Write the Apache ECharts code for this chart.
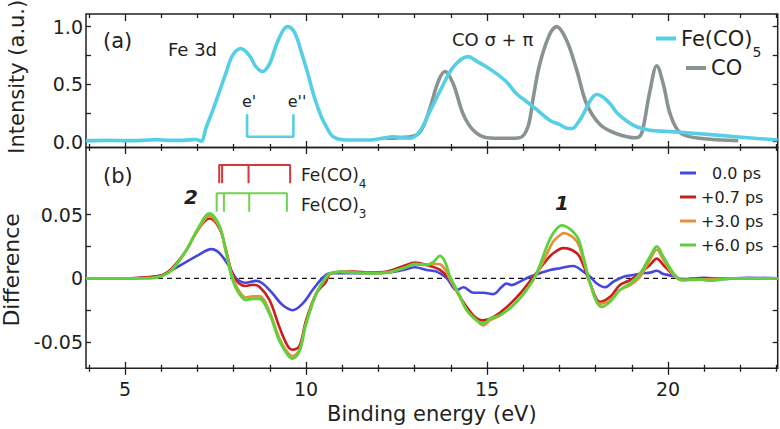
<!DOCTYPE html>
<html>
<head>
<meta charset="utf-8">
<script src="https://cdn.jsdelivr.net/npm/echarts@6/dist/echarts.min.js"></script>
<style>html,body{margin:0;padding:0;background:#fff}#c{width:780px;height:429px}</style>
</head>
<body>
<div id="c"></div>
<script>
// ---------- axes ----------
const xMin = 3.92, xMax = 23.03;
const xMajorTicks = [5, 10, 15, 20];
const xMinorTicks = [4, 6, 7, 8, 9, 11, 12, 13, 14, 16, 17, 18, 19, 21, 22, 23];
const topYMin = -0.05, topYMax = 1.11;
const topYTicks = [0, 0.25, 0.5, 0.75, 1.0];
const topYLabels = [0, 0.5, 1.0];
const botYMin = -0.0706, botYMax = 0.1027;
const botYTicks = [-0.05, -0.025, 0, 0.025, 0.05];
const botYLabels = [-0.05, 0, 0.05];

// ---------- panel (a): spectra ----------
const feE = [3.92, 4.5, 5.0, 5.5, 5.86, 6.2, 6.6, 6.96, 7.1, 7.24, 7.42, 7.6, 7.79, 7.97, 8.2, 8.43, 8.62, 8.8, 8.99, 9.17, 9.36, 9.49, 9.68, 9.86, 10.05, 10.23, 10.41, 10.57, 10.75, 11.12, 11.77, 12.1, 12.4, 12.87, 13.15, 13.43, 13.7, 14.07, 14.48, 14.71, 14.99, 15.27, 15.54, 15.82, 16.09, 16.37, 16.74, 17.0, 17.2, 17.35, 17.5, 17.66, 17.85, 18.03, 18.21, 18.4, 18.58, 18.86, 19.13, 19.5, 19.96, 20.88, 21.8, 23.03];
const feI = [0.01, 0.012, 0.01, 0.012, 0.018, 0.012, 0.012, 0.02, 0.005, 0.125, 0.27, 0.43, 0.60, 0.75, 0.81, 0.75, 0.65, 0.61, 0.676, 0.835, 0.965, 1.0, 0.95, 0.79, 0.59, 0.386, 0.226, 0.125, 0.043, 0.015, 0.015, 0.03, 0.043, 0.03, 0.096, 0.27, 0.44, 0.65, 0.74, 0.70, 0.65, 0.59, 0.52, 0.415, 0.35, 0.28, 0.185, 0.15, 0.118, 0.115, 0.16, 0.24, 0.357, 0.41, 0.386, 0.33, 0.255, 0.18, 0.13, 0.10, 0.09, 0.07, 0.045, 0.015];
const coE = [12.2, 12.6, 13.06, 13.25, 13.43, 13.66, 13.84, 14.07, 14.34, 14.62, 15.0, 15.5, 15.9, 16.13, 16.28, 16.46, 16.74, 16.92, 17.2, 17.48, 17.75, 18.12, 18.58, 19.13, 19.25, 19.32, 19.5, 19.69, 19.87, 20.06, 20.33, 20.88, 21.94];
const coI = [0.03, 0.035, 0.06, 0.14, 0.30, 0.53, 0.61, 0.50, 0.24, 0.10, 0.035, 0.03, 0.035, 0.13, 0.39, 0.68, 0.94, 1.0, 0.88, 0.62, 0.33, 0.15, 0.07, 0.035, 0.06, 0.13, 0.44, 0.66, 0.5, 0.24, 0.08, 0.03, 0.01];
// e' / e'' bracket
const eBracketX = [8.37, 9.65];
const eBracketTop = 0.24, eBracketBottom = 0.043;

// ---------- panel (b): difference spectra ----------
const d00E = [3.92, 5.0, 5.7, 6.04, 6.3, 6.69, 7.01, 7.38, 7.61, 7.88, 8.07, 8.34, 8.62, 8.80, 9.08, 9.35, 9.63, 9.91, 10.18, 10.46, 10.66, 11.31, 12.23, 12.69, 13.01, 13.33, 13.61, 13.89, 14.16, 14.35, 14.62, 14.90, 15.17, 15.41, 15.54, 15.68, 15.91, 16.18, 16.46, 16.74, 17.02, 17.38, 17.66, 17.85, 18.03, 18.26, 18.49, 18.77, 19.04, 19.32, 19.50, 19.69, 19.87, 20.15, 20.38, 21.0, 21.5, 22.2, 23.03];
const d00 = [0, 0, 0.001, 0.0026, 0.0066, 0.013, 0.018, 0.0229, 0.0197, 0.0092, 0, -0.0034, -0.002, -0.004, -0.012, -0.021, -0.025, -0.0197, -0.0092, 0.0005, 0.004, 0.004, 0.0045, 0.0066, 0.0087, 0.0066, 0.0053, 0, -0.0092, -0.007, -0.0113, -0.0113, -0.0124, -0.0066, -0.004, -0.0053, -0.0026, 0.0013, 0.004, 0.0065, 0.008, 0.0097, 0.0053, 0.0013, -0.004, -0.007, -0.0026, 0.0013, 0.0026, 0.004, 0.0045, 0.006, 0.0034, 0.0018, -0.0008, 0.0005, -0.0005, 0.0005, 0];
const d07E = [3.92, 5.0, 5.7, 6.04, 6.3, 6.69, 7.01, 7.33, 7.61, 7.79, 7.97, 8.15, 8.34, 8.53, 8.71, 8.99, 9.26, 9.49, 9.63, 9.82, 10.0, 10.28, 10.55, 10.66, 10.94, 11.31, 11.77, 12.23, 12.69, 13.01, 13.33, 13.70, 13.98, 14.25, 14.62, 14.90, 15.17, 15.54, 15.91, 16.28, 16.65, 16.83, 17.11, 17.48, 17.66, 17.85, 18.12, 18.40, 18.67, 18.95, 19.23, 19.50, 19.69, 19.87, 20.15, 20.38, 20.88, 21.8, 23.03];
const d07 = [0, 0, 0.001, 0.0026, 0.008, 0.022, 0.038, 0.047, 0.039, 0.022, 0.0026, -0.004, -0.006, -0.005, -0.0066, -0.017, -0.038, -0.053, -0.056, -0.053, -0.033, -0.012, -0.0026, 0.0034, 0.005, 0.0053, 0.0045, 0.0053, 0.0097, 0.0124, 0.0105, 0.0066, -0.0013, -0.0145, -0.029, -0.033, -0.0305, -0.0226, -0.012, 0.0013, 0.0145, 0.0197, 0.0237, 0.0197, 0.0105, -0.004, -0.0184, -0.0145, -0.0053, -0.0013, 0.004, 0.0105, 0.0155, 0.0105, 0.0026, -0.0013, -0.0005, 0, 0];
const d30E = [3.92, 5.0, 5.7, 6.04, 6.3, 6.69, 7.01, 7.33, 7.61, 7.79, 7.97, 8.15, 8.34, 8.53, 8.71, 8.99, 9.26, 9.49, 9.63, 9.82, 10.0, 10.28, 10.55, 10.66, 10.94, 11.31, 11.77, 12.23, 12.69, 13.01, 13.33, 13.52, 13.70, 13.84, 13.98, 14.2, 14.44, 14.71, 14.90, 15.08, 15.36, 15.73, 16.09, 16.37, 16.65, 16.83, 17.02, 17.11, 17.48, 17.66, 17.85, 18.12, 18.40, 18.67, 18.95, 19.23, 19.50, 19.69, 19.87, 20.15, 20.38, 20.88, 21.8, 23.03];
const d30 = [0, 0, 0.0005, 0.002, 0.007, 0.022, 0.038, 0.049, 0.040, 0.021, 0.001, -0.01, -0.015, -0.014, -0.014, -0.026, -0.047, -0.058, -0.061, -0.056, -0.035, -0.012, 0.0, 0.0035, 0.005, 0.0045, 0.004, 0.0045, 0.008, 0.011, 0.0105, 0.0115, 0.011, 0.007, -0.001, -0.012, -0.025, -0.033, -0.037, -0.033, -0.029, -0.021, -0.009, 0.003, 0.019, 0.029, 0.034, 0.0355, 0.029, 0.0145, -0.004, -0.020, -0.017, -0.0092, -0.0053, 0.0013, 0.0145, 0.0224, 0.0145, 0.0026, -0.0013, -0.001, 0, 0];
const d60E = [3.92, 5.0, 5.7, 6.04, 6.3, 6.69, 7.01, 7.33, 7.61, 7.79, 7.97, 8.15, 8.34, 8.53, 8.71, 8.99, 9.26, 9.49, 9.63, 9.82, 10.0, 10.28, 10.55, 10.66, 10.94, 11.31, 11.77, 12.23, 12.69, 13.01, 13.33, 13.52, 13.70, 13.84, 13.98, 14.2, 14.44, 14.71, 14.90, 15.08, 15.36, 15.73, 16.09, 16.37, 16.65, 16.83, 17.06, 17.48, 17.66, 17.85, 18.03, 18.17, 18.40, 18.67, 18.95, 19.23, 19.50, 19.69, 19.87, 20.15, 20.38, 20.88, 21.15, 21.8, 23.03];
const d60 = [0, 0, 0, 0.002, 0.0066, 0.022, 0.039, 0.051, 0.041, 0.02, -0.0013, -0.012, -0.017, -0.016, -0.016, -0.028, -0.049, -0.060, -0.063, -0.057, -0.036, -0.012, 0.001, 0.004, 0.0053, 0.0045, 0.004, 0.0045, 0.008, 0.0113, 0.0105, 0.013, 0.0176, 0.013, 0.0013, -0.011, -0.025, -0.033, -0.0355, -0.0316, -0.029, -0.021, -0.0092, 0.004, 0.025, 0.0355, 0.0415, 0.033, 0.017, -0.004, -0.0184, -0.0224, -0.0184, -0.0092, -0.004, 0.004, 0.017, 0.025, 0.017, 0.004, -0.0013, -0.0008, -0.0018, 0, 0];
const diffNames = ['0.0 ps', '+0.7 ps', '+3.0 ps', '+6.0 ps'];
// Fe(CO)4 / Fe(CO)3 stick markers
const fe4X = [7.60, 7.68, 8.41, 9.56];
const fe4Top = 0.089, fe4Bottom = 0.0746;
const fe3X = [7.53, 7.73, 8.43, 9.47];
const fe3Top = 0.0667, fe3Bottom = 0.0523;

// ---------- helpers ----------
const zip = (xs, ys) => xs.map((x, i) => [x, ys[i]]);
function comb(xs, top, bottom) {
  const pts = [[xs[0], bottom], [xs[0], top]];
  for (let i = 1; i < xs.length; i++) {
    pts.push([xs[i], top], [xs[i], bottom], [xs[i], top]);
  }
  pts.pop();
  return pts;
}
function bracket(xs, top, bottom) {
  return [[xs[0], top], [xs[0], bottom], [xs[1], bottom], [xs[1], top]];
}

const FONT = 'DejaVu Sans';
const INK = '#231f20';
const C = { fe: '#56cfe6', co: '#8a9292', b: '#4646e0', r: '#c81e1e', o: '#e39038', g: '#5fd13c' };

const G0 = { left: 86, right: 2.3, top: 14, height: 133.5 };
const G1 = { left: 86, right: 2.3, top: 147.5, height: 220.8 };

// ticks drawn "outside" from an axis shifted inward by `offset`
function xTickAxis(grid, pos, vals, len, offset, extra) {
  return Object.assign({
    type: 'value', gridIndex: grid, position: pos, min: xMin, max: xMax, offset: offset,
    axisLine: { show: false, onZero: false }, splitLine: { show: false },
    axisTick: { show: true, inside: false, length: len, customValues: vals, lineStyle: { color: INK, width: 1.3 } },
    axisLabel: { show: false }
  }, extra || {});
}
function yAxisDef(grid, pos, min, max, ticks, labels, fmt, extra) {
  return Object.assign({
    type: 'value', gridIndex: grid, position: pos, min: min, max: max, offset: -5,
    axisLine: { show: false, onZero: false }, splitLine: { show: false },
    axisTick: { show: true, inside: false, length: 5, customValues: ticks, lineStyle: { color: INK, width: 1.3 } },
    axisLabel: labels ? { show: true, customValues: labels, formatter: fmt, margin: 8, color: INK, fontFamily: FONT, fontSize: 19 } : { show: false }
  }, extra || {});
}

const subRich = (mainSize, subSize, lh) => ({
  n: { fontFamily: FONT, fontSize: mainSize, lineHeight: lh, verticalAlign: 'middle', color: INK, fill: INK },
  s: { fontFamily: FONT, fontSize: subSize, lineHeight: lh, verticalAlign: 'bottom', color: INK, fill: INK }
});

const gridBase = { show: true, borderColor: INK, borderWidth: 1.5, backgroundColor: 'transparent', containLabel: false, outerBoundsMode: 'none' };

const option = {
  animation: false,
  backgroundColor: '#fff',
  textStyle: { fontFamily: FONT, color: INK },
  grid: [Object.assign({}, gridBase, G0), Object.assign({}, gridBase, G1)],
  xAxis: [
    // top edge of panel (a): ticks pointing down into the plot
    xTickAxis(0, 'top', xMajorTicks, 7, -7),
    xTickAxis(0, 'top', xMinorTicks, 4, -4),
    // shared divider (ticks cross the line)
    xTickAxis(1, 'top', xMajorTicks, 13, -6.5),
    xTickAxis(1, 'top', xMinorTicks, 7, -3.5),
    // bottom of panel (b) (ticks cross the line)
    xTickAxis(1, 'bottom', xMajorTicks, 13, -6.5, {
      axisLabel: { show: true, customValues: xMajorTicks, margin: 18, color: INK, fontFamily: FONT, fontSize: 19 },
      name: 'Binding energy (eV)', nameLocation: 'middle', nameGap: 40,
      nameTextStyle: { fontFamily: FONT, fontSize: 21, color: INK }
    }),
    xTickAxis(1, 'bottom', xMinorTicks, 7, -3.5)
  ],
  yAxis: [
    yAxisDef(0, 'left', topYMin, topYMax, topYTicks, topYLabels, v => v.toFixed(1), {
      name: 'Intensity (a.u.)', nameLocation: 'middle', nameRotate: 90, nameGap: 64,
      nameTextStyle: { fontFamily: FONT, fontSize: 21, color: INK, padding: [0, 0, 0, 8] }
    }),
    yAxisDef(0, 'right', topYMin, topYMax, topYTicks, null),
    yAxisDef(1, 'left', botYMin, botYMax, botYTicks, botYLabels, v => (v === 0 ? '0' : v.toFixed(2)), {
      name: 'Difference', nameLocation: 'middle', nameRotate: 90, nameGap: 64,
      nameTextStyle: { fontFamily: FONT, fontSize: 22, color: INK, padding: [0, 24, 0, 0] }
    }),
    yAxisDef(1, 'right', botYMin, botYMax, botYTicks, null)
  ],
  legend: [
    {
      data: ['Fe(CO)5'], left: 656, top: 28, padding: 0, selectedMode: false,
      icon: 'rect', itemWidth: 20, itemHeight: 4, itemGap: 6,
      formatter: () => '{n|Fe(CO)}{s|5}',
      textStyle: { color: INK, fontFamily: FONT, fontSize: 21, rich: subRich(21, 14, 41) }
    },
    {
      data: ['CO'], left: 686, top: 56, padding: 0, selectedMode: false,
      icon: 'rect', itemWidth: 20, itemHeight: 4,
      textStyle: { color: INK, fontFamily: FONT, fontSize: 21, lineHeight: 24 }
    },
    {
      data: diffNames, left: 680, top: 163, padding: 0, orient: 'vertical', selectedMode: false,
      icon: 'rect', itemWidth: 16, itemHeight: 3, itemGap: 4,
      formatter: name => (name === '0.0 ps' ? '{p|' + name + '}' : name),
      textStyle: {
        color: INK, fontFamily: FONT, fontSize: 16, lineHeight: 20,
        rich: { p: { fontFamily: FONT, fontSize: 16, lineHeight: 20, color: INK, padding: [0, 0, 0, 11] } }
      }
    }
  ],
  series: [
    { name: 'CO', type: 'line', xAxisIndex: 0, yAxisIndex: 0, data: zip(coE, coI), smooth: 0.35,
      showSymbol: false, silent: true, lineStyle: { color: C.co, width: 3.6 }, itemStyle: { color: C.co } },
    { name: 'Fe(CO)5', type: 'line', xAxisIndex: 0, yAxisIndex: 0, data: zip(feE, feI), smooth: 0.35,
      showSymbol: false, silent: true, lineStyle: { color: C.fe, width: 3.6 }, itemStyle: { color: C.fe } },
    { name: 'e-bracket', type: 'line', xAxisIndex: 0, yAxisIndex: 0, data: bracket(eBracketX, eBracketTop, eBracketBottom),
      showSymbol: false, silent: true, lineStyle: { color: C.fe, width: 2.6 } },
    { name: 'zero', type: 'line', xAxisIndex: 2, yAxisIndex: 2, data: [[xMin, 0], [xMax, 0]],
      showSymbol: false, silent: true, lineStyle: { color: '#111', width: 1.2, type: [5, 4] } },
    { name: diffNames[0], type: 'line', xAxisIndex: 2, yAxisIndex: 2, data: zip(d00E, d00), smooth: 0.35,
      showSymbol: false, silent: true, lineStyle: { color: C.b, width: 2.6 }, itemStyle: { color: C.b } },
    { name: diffNames[1], type: 'line', xAxisIndex: 2, yAxisIndex: 2, data: zip(d07E, d07), smooth: 0.35,
      showSymbol: false, silent: true, lineStyle: { color: C.r, width: 2.6 }, itemStyle: { color: C.r } },
    { name: diffNames[2], type: 'line', xAxisIndex: 2, yAxisIndex: 2, data: zip(d30E, d30), smooth: 0.35,
      showSymbol: false, silent: true, lineStyle: { color: C.o, width: 2.6 }, itemStyle: { color: C.o } },
    { name: diffNames[3], type: 'line', xAxisIndex: 2, yAxisIndex: 2, data: zip(d60E, d60), smooth: 0.35,
      showSymbol: false, silent: true, lineStyle: { color: C.g, width: 2.8 }, itemStyle: { color: C.g } },
    { name: 'Fe(CO)4 sticks', type: 'line', xAxisIndex: 2, yAxisIndex: 2, data: comb(fe4X, fe4Top, fe4Bottom),
      showSymbol: false, silent: true, lineStyle: { color: '#d03a3a', width: 2 } },
    { name: 'Fe(CO)3 sticks', type: 'line', xAxisIndex: 2, yAxisIndex: 2, data: comb(fe3X, fe3Top, fe3Bottom),
      showSymbol: false, silent: true, lineStyle: { color: '#6fd24e', width: 2 } }
  ],
  graphic: [
    { type: 'text', left: 103, top: 30, style: { text: '(a)', font: '21px "DejaVu Sans"', fill: INK } },
    { type: 'text', left: 168, top: 40, style: { text: 'Fe 3d', font: '18px "DejaVu Sans"', fill: INK } },
    { type: 'text', left: 452, top: 30, style: { text: 'CO σ + π', font: '18px "DejaVu Sans"', fill: INK } },
    { type: 'text', x: 249, y: 101, style: { text: "e'", font: '16px "DejaVu Sans"', fill: INK, align: 'center', verticalAlign: 'middle' } },
    { type: 'text', x: 297, y: 101, style: { text: "e''", font: '16px "DejaVu Sans"', fill: INK, align: 'center', verticalAlign: 'middle' } },
    { type: 'text', left: 103, top: 165, style: { text: '(b)', font: '21px "DejaVu Sans"', fill: INK } },
    { type: 'text', x: 191, y: 197, style: { text: '2', font: 'italic bold 20px "DejaVu Sans"', fill: INK, align: 'center', verticalAlign: 'middle' } },
    { type: 'text', x: 562, y: 203, style: { text: '1', font: 'italic bold 20px "DejaVu Sans"', fill: INK, align: 'center', verticalAlign: 'middle' } },
    { type: 'text', x: 301, y: 175, style: { text: '{n|Fe(CO)}{s|4}', align: 'left', verticalAlign: 'middle', rich: subRich(17, 12, 29) } },
    { type: 'text', x: 301, y: 205, style: { text: '{n|Fe(CO)}{s|3}', align: 'left', verticalAlign: 'middle', rich: subRich(17, 12, 29) } }
  ]
};

const chart = echarts.init(document.getElementById('c'), null, { renderer: 'svg' });
chart.setOption(option);
</script>
</body>
</html>
